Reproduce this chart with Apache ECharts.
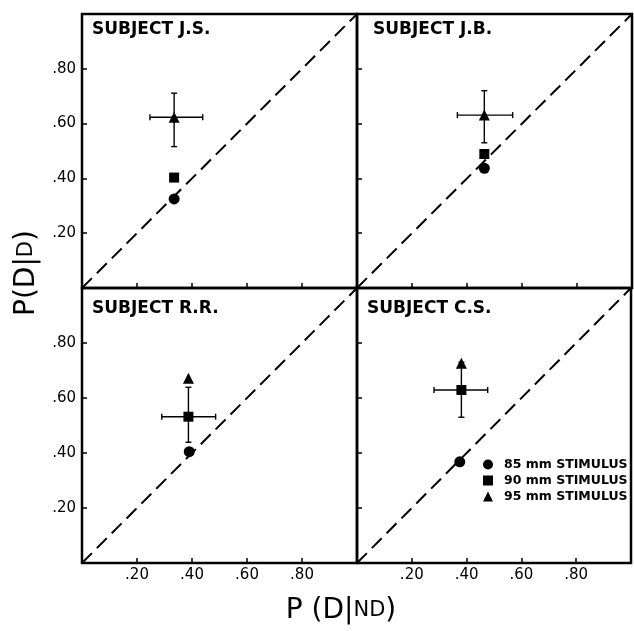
<!DOCTYPE html>
<html>
<head>
<meta charset="utf-8">
<script src="https://cdn.jsdelivr.net/npm/echarts@6/dist/echarts.min.js"></script>
<style>html,body{margin:0;padding:0;background:#fff}#c{width:634px;height:631px}</style>
</head>
<body>
<div id="c"></div>
<script>
// ---- data ----
const subjects = ['SUBJECT J.S.', 'SUBJECT J.B.', 'SUBJECT R.R.', 'SUBJECT C.S.'];
const seriesNames = ['85 mm STIMULUS', '90 mm STIMULUS', '95 mm STIMULUS'];
const stim85 = [[0.335, 0.325], [0.463, 0.437], [0.390, 0.405], [0.375, 0.368]];
const stim90 = [[0.335, 0.403], [0.463, 0.489], [0.387, 0.532], [0.381, 0.629]];
const stim95 = [[0.335, 0.623], [0.463, 0.631], [0.387, 0.672], [0.381, 0.726]];
// error bars: [x, y, xLow, xHigh, yLow, yHigh]
const errBars = [
  [0.335, 0.623, 0.247, 0.439, 0.516, 0.711],
  [0.463, 0.631, 0.365, 0.566, 0.530, 0.720],
  [0.387, 0.532, 0.290, 0.486, 0.439, 0.639],
  [0.381, 0.629, 0.281, 0.477, 0.530, 0.730]
];
const diagonal = [[0, 0], [1, 1]];
const tickValues = [0.2, 0.4, 0.6, 0.8];
const tickLabels = ['.20', '.40', '.60', '.80'];

const FONT = 'DejaVu Sans';
const grids = [
  {left: 82, top: 14, width: 275, height: 274},
  {left: 357, top: 14, width: 275, height: 274},
  {left: 82, top: 288, width: 275, height: 275},
  {left: 357, top: 288, width: 275, height: 275}
];
const titlePos = [[92, 22], [373, 22], [92, 301], [367, 301]];

function fmt(v) {
  for (let i = 0; i < tickValues.length; i++) {
    if (Math.abs(v - tickValues[i]) < 1e-6) return tickLabels[i];
  }
  return '';
}

const xAxes = [], yAxes = [], series = [], titles = [];
grids.forEach((g, i) => {
  const bottomRow = i >= 2, leftCol = i % 2 === 0;
  xAxes.push({
    type: 'value', gridIndex: i, min: 0, max: 1, interval: 0.2,
    axisLine: {show: false}, splitLine: {show: false},
    axisTick: {show: true, inside: true, length: 5, lineStyle: {color: '#000', width: 1.5}},
    axisLabel: {show: bottomRow, formatter: fmt, color: '#000', fontFamily: FONT, fontSize: 15, margin: 5}
  });
  yAxes.push({
    type: 'value', gridIndex: i, min: 0, max: 1, interval: 0.2,
    axisLine: {show: false}, splitLine: {show: false},
    axisTick: {show: true, inside: true, length: 5, lineStyle: {color: '#000', width: 1.5}},
    axisLabel: {show: leftCol, formatter: fmt, color: '#000', fontFamily: FONT, fontSize: 15, margin: 6}
  });
  titles.push({
    text: subjects[i], left: titlePos[i][0], top: titlePos[i][1] - 1, padding: 0,
    textStyle: {fontFamily: FONT, fontSize: 17, fontWeight: 'bold', color: '#000'}
  });
  series.push({
    type: 'line', xAxisIndex: i, yAxisIndex: i, data: diagonal, symbol: 'none',
    silent: true, z: 1,
    lineStyle: {color: '#000', width: 2, type: [14, 7]}
  });
  series.push({
    type: 'custom', xAxisIndex: i, yAxisIndex: i, data: [errBars[i]], z: 2, silent: true,
    renderItem: function (params, api) {
      const c = api.coord([api.value(0), api.value(1)]);
      const xl = api.coord([api.value(2), api.value(1)]);
      const xh = api.coord([api.value(3), api.value(1)]);
      const yl = api.coord([api.value(0), api.value(4)]);
      const yh = api.coord([api.value(0), api.value(5)]);
      const cap = 3;
      const st = {stroke: '#000', lineWidth: 1.4};
      return {type: 'group', children: [
        {type: 'line', shape: {x1: xl[0], y1: c[1], x2: xh[0], y2: c[1]}, style: st},
        {type: 'line', shape: {x1: xl[0], y1: c[1] - cap, x2: xl[0], y2: c[1] + cap}, style: st},
        {type: 'line', shape: {x1: xh[0], y1: c[1] - cap, x2: xh[0], y2: c[1] + cap}, style: st},
        {type: 'line', shape: {x1: c[0], y1: yl[1], x2: c[0], y2: yh[1]}, style: st},
        {type: 'line', shape: {x1: c[0] - cap, y1: yl[1], x2: c[0] + cap, y2: yl[1]}, style: st},
        {type: 'line', shape: {x1: c[0] - cap, y1: yh[1], x2: c[0] + cap, y2: yh[1]}, style: st}
      ]};
    }
  });
  const ms = {color: '#000', opacity: 1};
  series.push({type: 'scatter', name: seriesNames[0], xAxisIndex: i, yAxisIndex: i, data: [stim85[i]],
    symbol: 'circle', symbolSize: 11, itemStyle: ms, z: 3});
  series.push({type: 'scatter', name: seriesNames[1], xAxisIndex: i, yAxisIndex: i, data: [stim90[i]],
    symbol: 'rect', symbolSize: 10, itemStyle: ms, z: 3});
  series.push({type: 'scatter', name: seriesNames[2], xAxisIndex: i, yAxisIndex: i, data: [stim95[i]],
    symbol: 'triangle', symbolSize: 11, itemStyle: ms, z: 3});
});

const chart = echarts.init(document.getElementById('c'), null, {renderer: 'canvas'});
chart.setOption({
  animation: false,
  backgroundColor: '#fff',
  title: titles,
  grid: grids.map(g => Object.assign({show: true, borderColor: '#000', borderWidth: 2.5, backgroundColor: 'transparent', containLabel: false}, g)),
  xAxis: xAxes,
  yAxis: yAxes,
  legend: {
    data: seriesNames.map(n => ({name: n})),
    orient: 'vertical', left: 483, top: 458, padding: 0,
    itemWidth: 10, itemHeight: 10, itemGap: 3, selectedMode: false,
    itemStyle: {color: '#000', opacity: 1},
    formatter: '{a|{name}}',
    textStyle: {color: '#000', fontFamily: FONT, fontSize: 12, fontWeight: 'bold',
      rich: {a: {fontFamily: FONT, fontSize: 12.5, fontWeight: 'bold', color: '#000', padding: [0, 0, 0, 6]}}}
  },
  graphic: [
    {type: 'text', x: 341, y: 611, style: {
      text: '{a|P (D|}{b|ND}{a|)}', align: 'center', verticalAlign: 'middle',
      rich: {a: {fontFamily: FONT, fontSize: 28, fill: '#000'}, b: {fontFamily: FONT, fontSize: 21, fill: '#000'}}
    }},
    {type: 'text', x: 27, y: 273, rotation: Math.PI / 2, style: {
      text: '{a|P(D|}{b|D}{a|)}', align: 'center', verticalAlign: 'middle',
      rich: {a: {fontFamily: FONT, fontSize: 28, fill: '#000'}, b: {fontFamily: FONT, fontSize: 21, fill: '#000'}}
    }}
  ],
  series: series
});
</script>
</body>
</html>
